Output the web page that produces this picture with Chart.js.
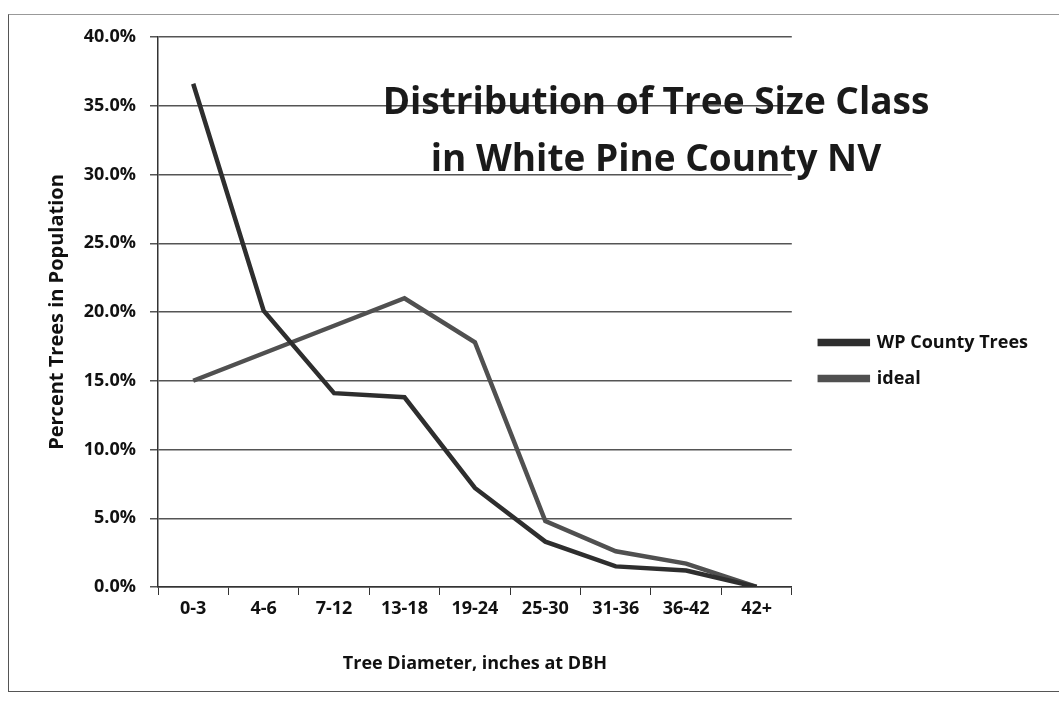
<!DOCTYPE html>
<html>
<head>
<meta charset="utf-8">
<script src="https://cdn.jsdelivr.net/npm/chart.js@4"></script>
<style>
  html, body { margin: 0; padding: 0; background: #fff; }
  #wrap { position: relative; width: 1059px; height: 704px; overflow: hidden; }
  #frame { position: absolute; left: 8px; top: 14px; width: 1070px; height: 676px;
           border-left: 1.5px solid #555; border-top: 1px solid #999; border-bottom: 1.5px solid #555; }
  #title { position: absolute; left: 356px; top: 71px; width: 600px; text-align: center;
           font: bold 37px "Open Sans", Lato, sans-serif; color: #1a1a1a; line-height: 57px; }
  canvas { position: absolute; left: 0; top: 0; }
</style>
</head>
<body>
<div id="wrap">
  <div id="frame"></div>
  <canvas id="treeChart" width="1059" height="704"></canvas>
  <div id="title">Distribution of Tree Size Class<br>in White Pine County NV</div>
</div>
<script>
const categories = ["0-3", "4-6", "7-12", "13-18", "19-24", "25-30", "31-36", "36-42", "42+"];
const wpCounty = [36.6, 20.1, 14.1, 13.8, 7.2, 3.3, 1.5, 1.2, 0.0];
const ideal = [15.0, 17.0, 19.0, 21.0, 17.8, 4.8, 2.6, 1.7, 0.0];
const yTicks = [0, 5, 10, 15, 20, 25, 30, 35, 40];

const FONT = '"Open Sans", Lato, sans-serif';
const ctx = document.getElementById("treeChart");

new Chart(ctx, {
  type: "line",
  data: {
    labels: categories,
    datasets: [
      {
        label: "WP County Trees",
        data: wpCounty,
        borderColor: "#2e2e2e",
        backgroundColor: "#2e2e2e",
        borderWidth: 4.5,
        pointRadius: 0,
        tension: 0,
      },
      {
        label: "ideal",
        data: ideal,
        borderColor: "#505050",
        backgroundColor: "#505050",
        borderWidth: 4.5,
        pointRadius: 0,
        tension: 0,
      },
    ],
  },
  options: {
    responsive: false,
    animation: false,
    layout: { padding: { left: 45, top: 37, right: 21, bottom: 20 } },
    plugins: {
      legend: {
        position: "right",
        maxWidth: 320,
        labels: {
          boxWidth: 48,
          boxHeight: 3,
          padding: 18,
          color: "#111",
          font: { family: FONT, size: 18, weight: "bold" },
        },
      },
      tooltip: { enabled: false },
    },
    scales: {
      x: {
        offset: true,
        afterFit: (axis) => { axis.height = 97; },
        grid: { offset: true, drawOnChartArea: false, tickLength: 8, color: "#333" },
        border: { color: "#333", width: 1.5 },
        ticks: { color: "#111", padding: 3, font: { family: FONT, size: 18, weight: "bold" }, maxRotation: 0 },
        title: { display: true, text: "Tree Diameter, inches at DBH", color: "#111",
                 padding: { top: 4, bottom: 9 }, font: { family: FONT, size: 18, weight: "bold" } },
      },
      y: {
        min: 0,
        max: 40,
        afterFit: (axis) => { axis.width = 113; },
        afterBuildTicks: (axis) => { axis.ticks = yTicks.map((v) => ({ value: v })); },
        grid: { color: "#555", lineWidth: 1.5, tickLength: 8 },
        border: { color: "#333", width: 1.5 },
        ticks: { color: "#111", padding: 14, font: { family: FONT, size: 18, weight: "bold" },
                 callback: (v) => v.toFixed(1) + "%" },
        title: { display: true, text: "Percent Trees in Population", color: "#111",
                 padding: { top: 0, bottom: 2 }, font: { family: FONT, size: 20, weight: "bold" } },
      },
      gap: {
        position: "right",
        display: true,
        afterFit: (axis) => { axis.width = 10; },
        grid: { display: false },
        border: { display: false },
        ticks: { display: false },
      },
    },
  },
});
</script>
</body>
</html>
